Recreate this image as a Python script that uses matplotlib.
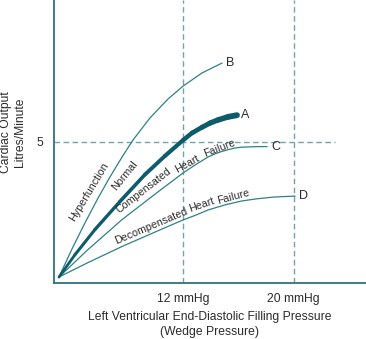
import numpy as np
import matplotlib
matplotlib.use("Agg")
import matplotlib.pyplot as plt
from matplotlib.collections import LineCollection

plt.rcParams['font.family'] = ['Liberation Sans', 'DejaVu Sans']

# Curves (pressure in mmHg, cardiac output in L/min)
b_x = [3.0, 3.94, 4.88, 5.83, 6.70, 7.57, 8.36, 9.59, 10.9, 12.0, 13.36, 14.81]
b_y = [0.21, 1.20, 2.12, 3.00, 3.75, 4.45, 5.05, 5.83, 6.50, 6.96, 7.42, 7.77]

a_x = [3.0, 4.16, 5.61, 7.42, 9.23, 10.68, 12.0, 12.64, 13.36, 13.94, 14.52, 15.25, 15.9]
a_y = [0.21, 1.00, 1.89, 2.88, 3.83, 4.49, 5.05, 5.30, 5.50, 5.65, 5.76, 5.87, 5.93]

c_x = [3.0, 5.10, 7.57, 9.96, 12.0, 12.86, 13.80, 14.30, 14.81, 15.25, 15.75, 16.26, 16.84, 17.42, 18.07]
c_y = [0.21, 1.18, 2.24, 3.14, 3.89, 4.17, 4.45, 4.56, 4.65, 4.71, 4.77, 4.80, 4.81, 4.82, 4.82]

d_x = [3.0, 5.10, 7.57, 9.96, 12.0, 12.93, 13.80, 15.03, 16.26, 17.42, 18.65, 20.10]
d_y = [0.21, 0.72, 1.29, 1.80, 2.23, 2.40, 2.58, 2.76, 2.90, 2.98, 3.04, 3.07]

ref_pressures = [12, 20]
ref_labels = ["12 mmHg", "20 mmHg"]
ref_output = 5

thin = "#2f8089"
thick = "#0e5b6c"
dash = "#6ea5ac"
txt = "#2b2b2b"

fig = plt.figure(figsize=(3.66, 3.39), dpi=100)
ax = fig.add_axes([54 / 366, 56 / 339, 312 / 366, 283 / 339])
ax.set_xlim(2.64, 25.25)
ax.set_ylim(0, 10)

# reference dashed lines
for p in ref_pressures:
    ax.axvline(p, color=dash, lw=1.0, ls=(0, (4, 2.5)), zorder=1)
ax.plot([2.64, 23.0], [ref_output, ref_output], color=dash, lw=1.0,
        ls=(0, (4, 2.5)), zorder=1, clip_on=False)

# curves
ax.plot(b_x, b_y, color=thin, lw=0.9, zorder=2)
ax.plot(c_x, c_y, color=thin, lw=0.9, zorder=2)
ax.plot(d_x, d_y, color=thin, lw=0.9, zorder=2)

# Normal curve gets thicker towards its end
pts = np.column_stack([a_x, a_y])
segs = np.stack([pts[:-1], pts[1:]], axis=1)
lc = LineCollection(segs, colors=thick, linewidths=np.linspace(2.0, 4.2, len(segs)),
                    capstyle='round', joinstyle='round', zorder=3)
ax.add_collection(lc)

# end letters
for lbl, xs, ys in [("B", b_x, b_y), ("A", a_x, a_y), ("C", c_x, c_y), ("D", d_x, d_y)]:
    ax.annotate(lbl, (xs[-1], ys[-1]), xytext=(3, 0), textcoords='offset points',
                ha='left', va='center', fontsize=9, color=txt)

# words along the curves
fs = 7.7
ax.text(5.2, 3.22, "Hyperfunction", rotation=59, ha='center', va='center', fontsize=fs, color=txt)
ax.text(7.75, 3.8, "Normal", rotation=51, ha='center', va='center', fontsize=fs, color=txt)
ax.text(9.15, 3.28, "Compensated", rotation=38, ha='center', va='center', fontsize=fs, color=txt)
ax.text(12.3, 4.2, "Heart", rotation=29, ha='center', va='center', fontsize=fs, color=txt)
ax.text(14.6, 4.77, "Failure", rotation=21, ha='center', va='center', fontsize=fs, color=txt)
ax.text(9.7, 2.02, "Decompensated", rotation=23, ha='center', va='center', fontsize=fs, color=txt)
ax.text(13.35, 2.77, "Heart", rotation=19, ha='center', va='center', fontsize=fs, color=txt)
ax.text(15.65, 3.05, "Failure", rotation=15, ha='center', va='center', fontsize=fs, color=txt)

# axes styling
for s in ['top', 'right']:
    ax.spines[s].set_visible(False)
for s in ['left', 'bottom']:
    ax.spines[s].set_color("#2e7282")
    ax.spines[s].set_linewidth(1.3)

ax.set_xticks(ref_pressures)
ax.set_xticklabels(ref_labels)
ax.set_yticks([ref_output])
ax.set_yticklabels([str(ref_output)])
ax.tick_params(length=0, labelsize=8.7, labelcolor=txt)
ax.tick_params(axis='x', pad=7)
ax.tick_params(axis='y', pad=8)

fig.text(210 / 366, 1 - 317 / 339, "Left Ventricular End-Diastolic Filling Pressure",
         ha='center', va='center', fontsize=8.75, color=txt)
fig.text(210 / 366, 1 - 332 / 339, "(Wedge Pressure)",
         ha='center', va='center', fontsize=8.75, color=txt)
fig.text(13 / 366, 1 - 132 / 339, "Cardiac Output\nLitres/Minute", rotation=90,
         ha='center', va='center', fontsize=8.7, color=txt, linespacing=1.2)

fig.savefig("out.png", dpi=100)
